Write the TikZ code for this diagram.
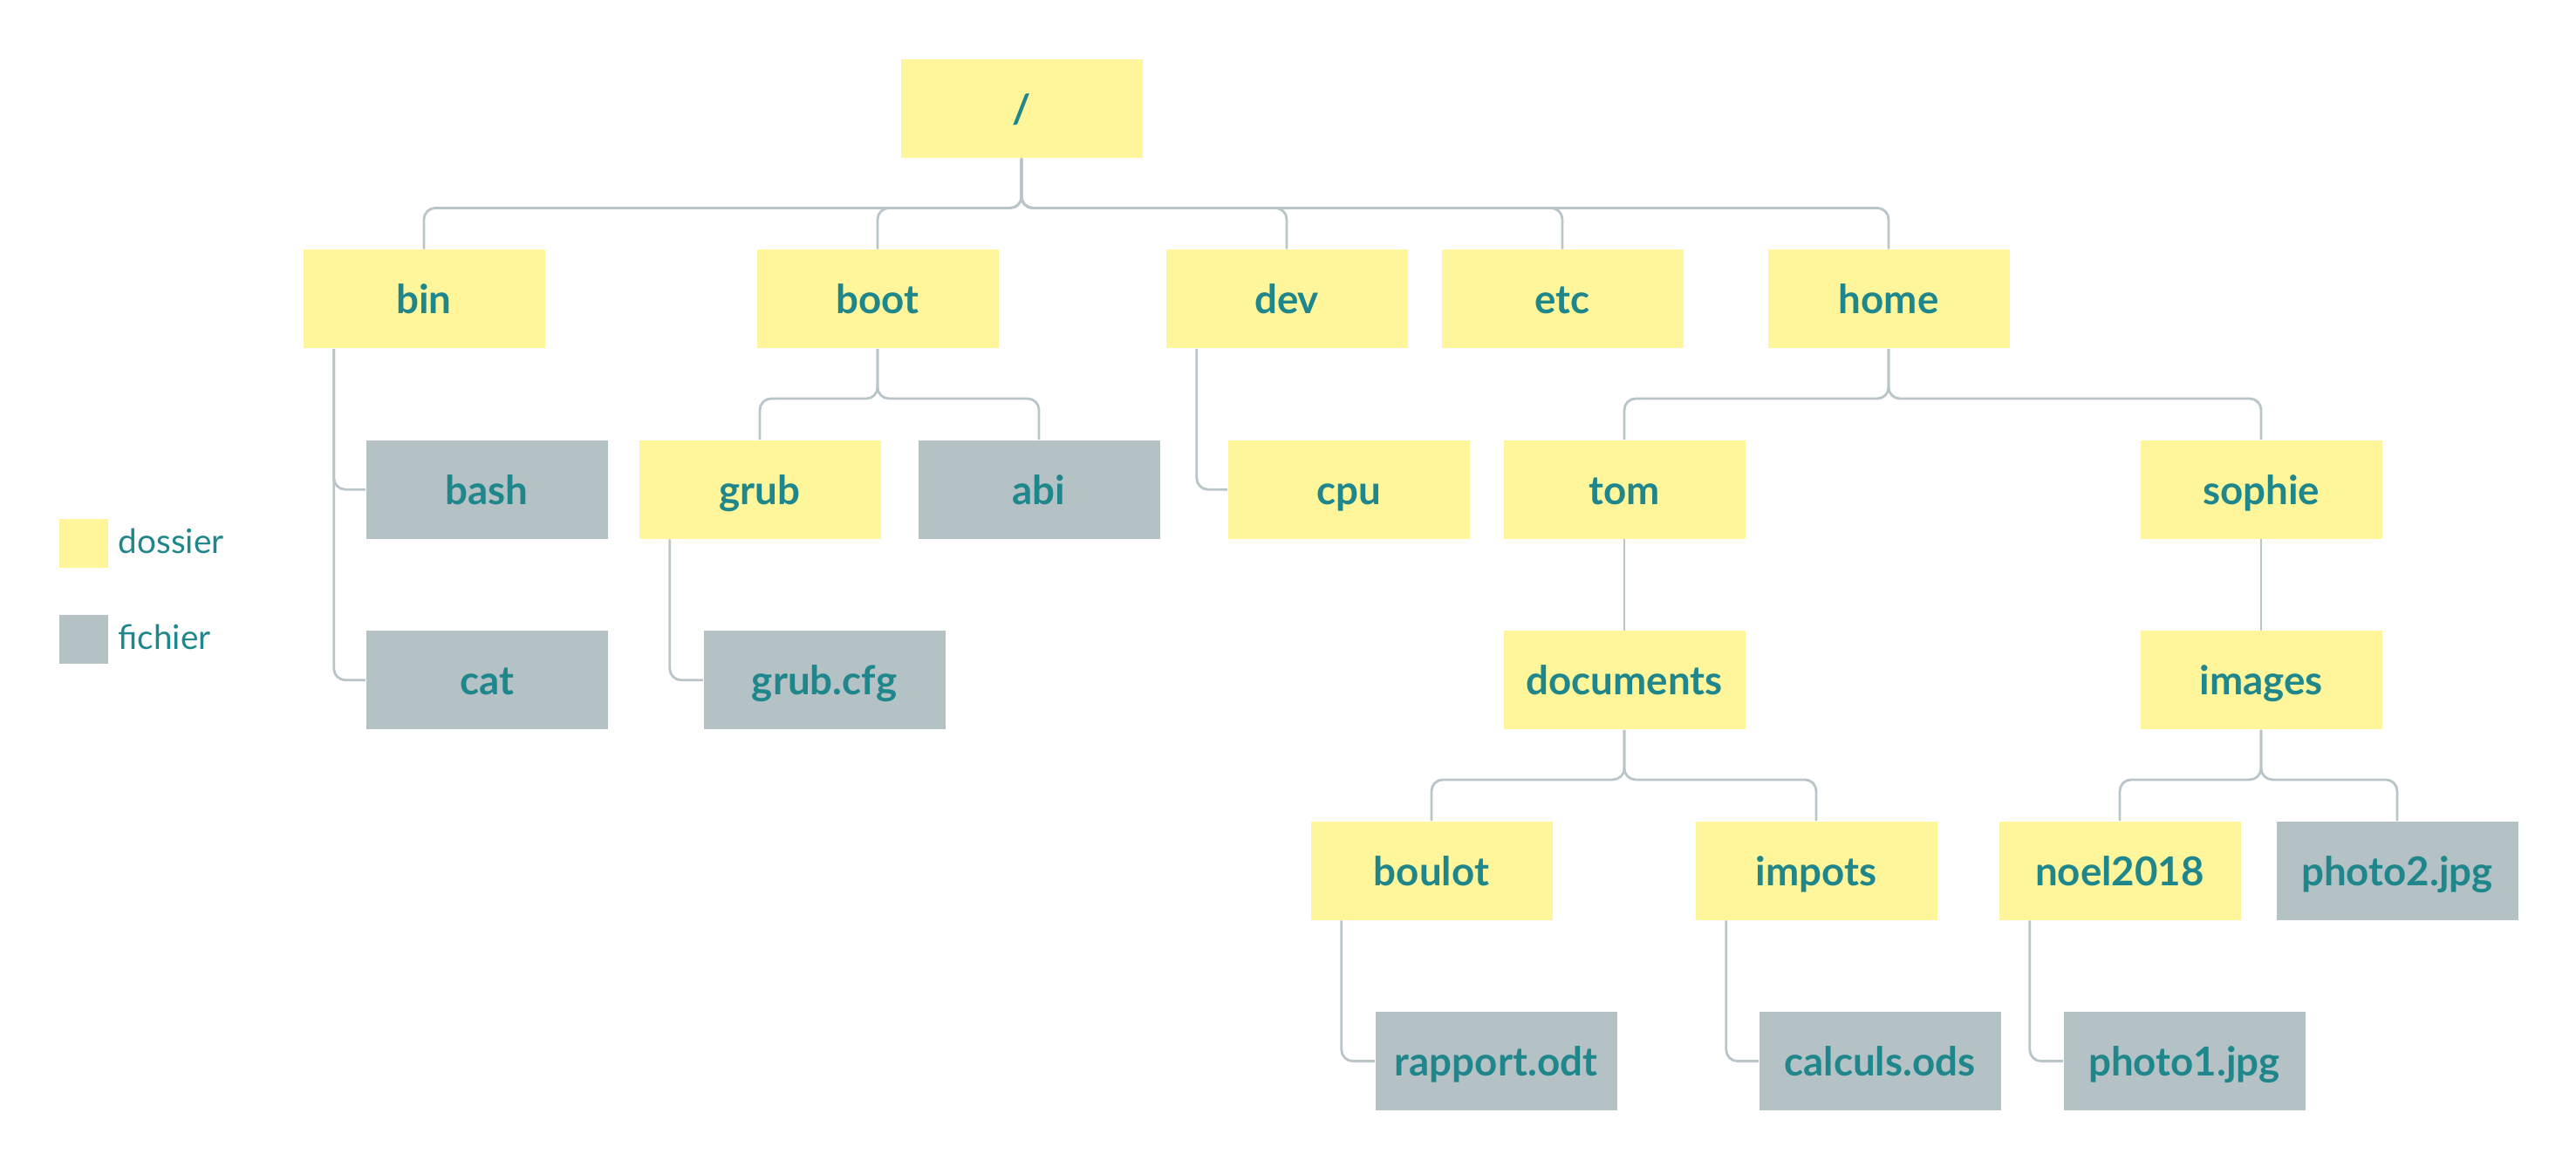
\documentclass[tikz,border=0pt]{standalone}
\usepackage{xcolor}
\usepackage{fontspec}
\setmainfont{Lato}
\usepackage{tikz}
\usetikzlibrary{calc}

\definecolor{dossiercolor}{HTML}{FFF59B}
\definecolor{fichiercolor}{HTML}{B4C2C6}
\definecolor{labelcolor}{HTML}{1F878B}
\definecolor{linkcolor}{HTML}{B9C5C9}

\begin{document}
\begin{tikzpicture}[scale=1]
    \tikzstyle{box}=[minimum width=2.77cm,minimum height=1.13cm,inner sep=0pt,
                     text height=0.40cm,text depth=0.06cm,text=labelcolor,
                     font=\fontsize{13}{15}\selectfont\bfseries]
    \tikzstyle{dossier}=[box,fill=dossiercolor]
    \tikzstyle{fichier}=[box,fill=fichiercolor]
    \tikzstyle{link}=[line width=0.8pt,color=linkcolor,rounded corners=0.13cm]
    \tikzstyle{legend square}=[minimum size=0.565cm,inner sep=0pt]
    \tikzstyle{legend text}=[anchor=base west,inner sep=0pt,text=labelcolor,
                             font=\fontsize{11}{13}\selectfont]

    \useasboundingbox (0,0) rectangle (29.53,-13.45);

    % Root
    \node[style=dossier] (root) at (11.71,-1.243) {/};

    % First level
    \node[style=dossier] (bin)  at (4.86,-3.428)  {bin};
    \node[style=dossier] (boot) at (10.06,-3.428) {boot};
    \node[style=dossier] (dev)  at (14.75,-3.428) {dev};
    \node[style=dossier] (etc)  at (17.91,-3.428) {etc};
    \node[style=dossier] (home) at (21.65,-3.428) {home};

    % Second level
    \node[style=fichier] (bash)   at (5.58,-5.612)  {bash};
    \node[style=dossier] (grub)   at (8.71,-5.612)  {grub};
    \node[style=fichier] (abi)    at (11.91,-5.612) {abi};
    \node[style=dossier] (cpu)    at (15.46,-5.612) {cpu};
    \node[style=dossier] (tom)    at (18.62,-5.612) {tom};
    \node[style=dossier] (sophie) at (25.92,-5.612) {sophie};

    % Third level
    \node[style=fichier] (cat)       at (5.58,-7.797)  {cat};
    \node[style=fichier] (grubcfg)   at (9.45,-7.797)  {grub.cfg};
    \node[style=dossier] (documents) at (18.62,-7.797) {documents};
    \node[style=dossier] (images)    at (25.92,-7.797) {images};

    % Fourth level
    \node[style=dossier] (boulot)   at (16.41,-9.982) {boulot};
    \node[style=dossier] (impots)   at (20.82,-9.982) {impots};
    \node[style=dossier] (noel2018) at (24.30,-9.982) {noel2018};
    \node[style=fichier] (photo2)   at (27.48,-9.982) {photo2.jpg};

    % Fifth level
    \node[style=fichier] (rapport) at (17.15,-12.166) {rapport.odt};
    \node[style=fichier] (calculs) at (21.55,-12.166) {calculs.ods};
    \node[style=fichier] (photo1)  at (25.04,-12.166) {photo1.jpg};

    % Links from /
    \draw[style=link] (root.south) -- ++(0,-0.57) -| (bin.north);
    \draw[style=link] (root.south) -- ++(0,-0.57) -| (boot.north);
    \draw[style=link] (root.south) -- ++(0,-0.57) -| (dev.north);
    \draw[style=link] (root.south) -- ++(0,-0.57) -| (etc.north);
    \draw[style=link] (root.south) -- ++(0,-0.57) -| (home.north);

    % Links from bin, boot, dev
    \draw[style=link] ($(bin.south west)+(0.36,0)$) |- (bash.west);
    \draw[style=link] ($(bin.south west)+(0.36,0)$) |- (cat.west);
    \draw[style=link] (boot.south) -- ++(0,-0.57) -| (grub.north);
    \draw[style=link] (boot.south) -- ++(0,-0.57) -| (abi.north);
    \draw[style=link] ($(grub.south west)+(0.36,0)$) |- (grubcfg.west);
    \draw[style=link] ($(dev.south west)+(0.36,0)$) |- (cpu.west);

    % Links from home
    \draw[style=link] (home.south) -- ++(0,-0.57) -| (tom.north);
    \draw[style=link] (home.south) -- ++(0,-0.57) -| (sophie.north);
    \draw[style=link] (tom) -- (documents);
    \draw[style=link] (sophie) -- (images);
    \draw[style=link] (documents.south) -- ++(0,-0.57) -| (boulot.north);
    \draw[style=link] (documents.south) -- ++(0,-0.57) -| (impots.north);
    \draw[style=link] (images.south) -- ++(0,-0.57) -| (noel2018.north);
    \draw[style=link] (images.south) -- ++(0,-0.57) -| (photo2.north);
    \draw[style=link] ($(boulot.south west)+(0.36,0)$) |- (rapport.west);
    \draw[style=link] ($(impots.south west)+(0.36,0)$) |- (calculs.west);
    \draw[style=link] ($(noel2018.south west)+(0.36,0)$) |- (photo1.west);

    % Legend
    \node[style=legend square,fill=dossiercolor] (legdossier) at (0.96,-6.23) {};
    \node[style=legend square,fill=fichiercolor] (legfichier) at (0.96,-7.33) {};
    \node[style=legend text] (txtdossier) at (1.35,-6.34) {dossier};
    \node[style=legend text] (txtfichier) at (1.35,-7.44) {fichier};

\end{tikzpicture}
\end{document}
